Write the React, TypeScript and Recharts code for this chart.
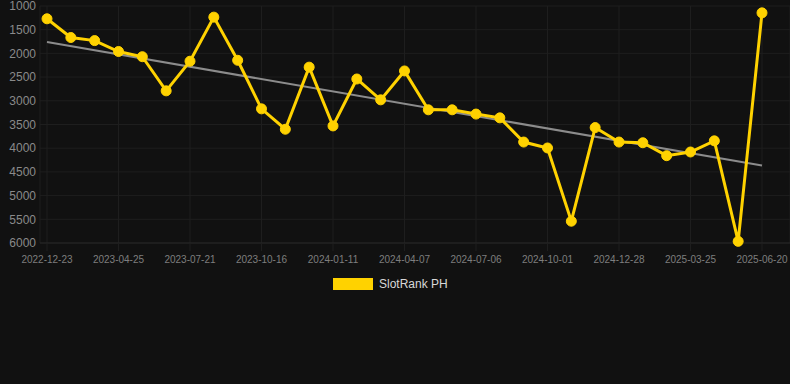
import React from "react";
import { LineChart, Line, XAxis, YAxis, CartesianGrid, ReferenceLine } from "recharts";

const dates = [
  "2022-12-23", "2023-02-03", "2023-03-16", "2023-04-25", "2023-05-24", "2023-06-22",
  "2023-07-21", "2023-08-19", "2023-09-17", "2023-10-16", "2023-11-14", "2023-12-13",
  "2024-01-11", "2024-02-09", "2024-03-09", "2024-04-07", "2024-05-07", "2024-06-06",
  "2024-07-06", "2024-08-04", "2024-09-02", "2024-10-01", "2024-10-30", "2024-11-28",
  "2024-12-28", "2025-01-26", "2025-02-24", "2025-03-25", "2025-04-23", "2025-05-22",
  "2025-06-20",
];

const ranks = [
  1270, 1665, 1730, 1960, 2070, 2790, 2165, 1235, 2145, 3170, 3600,
  2290, 3530, 2540, 2980, 2370, 3190, 3190, 3280, 3360, 3870, 3995,
  5540, 3565, 3870, 3885, 4158, 4080, 3845, 5965, 1145,
];

const trendStart = 1760;
const trendEnd = 4365;

const yTicks = [1000, 1500, 2000, 2500, 3000, 3500, 4000, 4500, 5000, 5500, 6000];

const seriesName = "SlotRank PH";

const data = dates.map((d, i) => ({ date: d, rank: ranks[i] }));

const FONT = '"Liberation Sans", Arial, Helvetica, sans-serif';
const GRID = "#1e1e1e";
const GOLD = "#FFD200";

export default function App() {
  return (
    <div
      style={{
        position: "absolute",
        left: 0,
        top: 0,
        width: 790,
        height: 384,
        background: "#111111",
        fontFamily: FONT,
        overflow: "hidden",
      }}
    >
      <LineChart
        width={790}
        height={270}
        data={data}
        margin={{ top: 6, right: 0, left: 0, bottom: 0 }}
      >
        <CartesianGrid stroke={GRID} strokeWidth={1} />
        <XAxis
          dataKey="date"
          interval={2}
          padding={{ left: 7, right: 28 }}
          height={27}
          axisLine={{ stroke: "#262626" }}
          tickLine={{ stroke: GRID }}
          tickSize={8}
          tickMargin={5}
          tick={{ fill: "#7e7e7e", fontSize: 10, fontFamily: FONT }}
        />
        <YAxis
          reversed
          domain={[1000, 6000]}
          ticks={yTicks}
          width={40}
          axisLine={false}
          tickLine={false}
          tickSize={0}
          tickMargin={4}
          interval={0}
          tick={{ fill: "#8a8a8a", fontSize: 12, fontFamily: FONT }}
        />
        <ReferenceLine
          segment={[
            { x: dates[0], y: trendStart },
            { x: dates[dates.length - 1], y: trendEnd },
          ]}
          stroke="#8c8c8c"
          strokeWidth={2}
          ifOverflow="visible"
        />
        <Line
          type="linear"
          dataKey="rank"
          name={seriesName}
          stroke={GOLD}
          strokeWidth={3}
          dot={{ r: 5, fill: GOLD, stroke: GOLD, strokeWidth: 1 }}
          activeDot={false}
          isAnimationActive={false}
        />
      </LineChart>
      <div
        style={{
          position: "absolute",
          left: 333,
          top: 278,
          display: "flex",
          alignItems: "center",
          height: 12,
        }}
      >
        <div style={{ width: 40, height: 12, background: GOLD }} />
        <span
          style={{
            marginLeft: 6,
            fontSize: 12,
            color: "#d8d8d8",
            fontFamily: FONT,
            lineHeight: "12px",
          }}
        >
          {seriesName}
        </span>
      </div>
    </div>
  );
}
